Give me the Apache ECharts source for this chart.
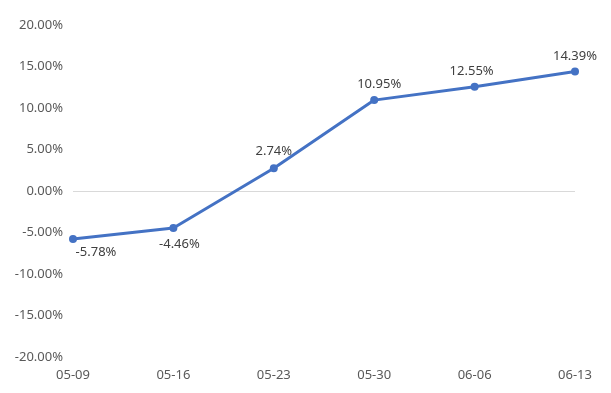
<!DOCTYPE html>
<html><head><meta charset="utf-8">
<script src="https://cdn.jsdelivr.net/npm/echarts@6/dist/echarts.min.js"></script>
<style>html,body{margin:0;padding:0;background:#fff}#c{width:611px;height:393px}</style>
</head><body><div id="c"></div>
<script>
var categories = ['05-09','05-16','05-23','05-30','06-06','06-13'];
var values = [-5.78, -4.46, 2.74, 10.95, 12.55, 14.39];
var yTicks = [-20, -15, -10, -5, 0, 5, 10, 15, 20];

var labelPos = ['bottom','bottom','top','top','top','top'];
var labelOff = [[23,-4],[6,-1],[0,1],[5,2],[-3,2],[0,2]];
var data = values.map(function(v,i){
  return {value: v, label: {position: labelPos[i], offset: labelOff[i]}};
});
var splitColors = yTicks.map(function(t){ return t === 0 ? '#d9d9d9' : 'rgba(0,0,0,0)'; });

var chart = echarts.init(document.getElementById('c'));
chart.setOption({
  animation: false,
  textStyle: {fontFamily: 'Noto Sans'},
  grid: {left: 73, right: 36, top: 25, bottom: 36},
  xAxis: {
    type: 'category', data: categories, boundaryGap: false,
    axisLine: {show: false}, axisTick: {show: false},
    axisLabel: {color: '#595959', fontSize: 13, margin: 12}
  },
  yAxis: {
    type: 'value', min: yTicks[0], max: yTicks[yTicks.length-1], interval: 5,
    axisLine: {show: false}, axisTick: {show: false},
    axisLabel: {color: '#595959', fontSize: 13, margin: 10, formatter: function(v){ return v.toFixed(2) + '%'; }},
    splitLine: {show: true, lineStyle: {color: splitColors, width: 1}}
  },
  series: [{
    type: 'line', data: data,
    lineStyle: {color: '#4472C4', width: 3},
    itemStyle: {color: '#4472C4'},
    symbol: 'circle', symbolSize: 8,
    label: {show: true, color: '#404040', fontSize: 13, distance: 7,
      formatter: function(p){ return p.value.toFixed(2) + '%'; }}
  }]
});
</script></body></html>
